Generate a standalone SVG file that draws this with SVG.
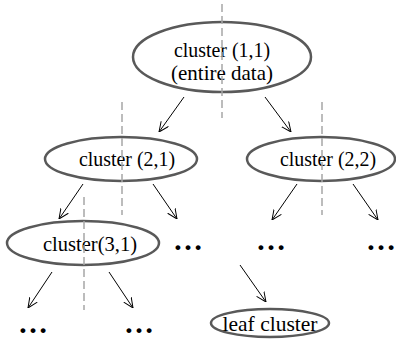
<svg xmlns="http://www.w3.org/2000/svg" width="396" height="339" viewBox="0 0 396 339">
<style>
.node ellipse{fill:#fff;stroke:#595959;stroke-width:2.5}
.lbl{font-family:"Liberation Serif","Times New Roman",serif;font-size:21px;fill:#000;text-anchor:middle}
.dots{font-family:"Liberation Serif","Times New Roman",serif;font-size:30px;font-weight:bold;fill:#000;text-anchor:middle}
.edge{stroke:#000;stroke-width:1;fill:none;marker-end:url(#arr)}
.split{stroke:#a6a6a6;stroke-width:1.5;stroke-dasharray:8,4;fill:none}
</style>
<defs>
<marker id="arr" viewBox="0 0 10 10" refX="10" refY="5" markerWidth="10" markerHeight="10" markerUnits="userSpaceOnUse" orient="auto">
<path d="M0,0.5 L10,5 L0,9.5" fill="none" stroke="#000" stroke-width="1"/>
</marker>
</defs>
<g id="n11" class="node"><ellipse cx="222" cy="57" rx="89" ry="35"/><text class="lbl" x="222" y="57" textLength="96" lengthAdjust="spacingAndGlyphs">cluster (1,1)</text><text class="lbl" x="222" y="80">(entire data)</text></g>
<g id="n21" class="node"><ellipse cx="121" cy="159" rx="76" ry="22"/><text class="lbl" x="127" y="166" textLength="96" lengthAdjust="spacingAndGlyphs">cluster (2,1)</text></g>
<g id="n22" class="node"><ellipse cx="321" cy="159" rx="74" ry="22"/><text class="lbl" x="328" y="166" textLength="96" lengthAdjust="spacingAndGlyphs">cluster (2,2)</text></g>
<g id="n31" class="node"><ellipse cx="83" cy="243" rx="76" ry="22"/><text class="lbl" x="90" y="251" textLength="94" lengthAdjust="spacingAndGlyphs">cluster(3,1)</text></g>
<g id="leaf" class="node"><ellipse cx="270" cy="323" rx="59" ry="14"/><text class="lbl" x="270" y="331" textLength="95" lengthAdjust="spacingAndGlyphs">leaf cluster</text></g>
<g id="d1"><text class="dots" x="188" y="250">…</text></g>
<g id="d2"><text class="dots" x="271" y="250">…</text></g>
<g id="d3"><text class="dots" x="381" y="250">…</text></g>
<g id="d4"><text class="dots" x="33" y="333">…</text></g>
<g id="d5"><text class="dots" x="139" y="333">…</text></g>
<g id="edges">
<line class="edge" x1="184" y1="97" x2="159" y2="132"/>
<line class="edge" x1="265" y1="97" x2="291" y2="132"/>
<line class="edge" x1="83" y1="184" x2="59" y2="219"/>
<line class="edge" x1="153" y1="184" x2="177" y2="219"/>
<line class="edge" x1="297" y1="184" x2="272" y2="220"/>
<line class="edge" x1="353" y1="184" x2="378" y2="220"/>
<line class="edge" x1="52" y1="272" x2="28" y2="308"/>
<line class="edge" x1="109" y1="272" x2="133" y2="308"/>
<line class="edge" x1="240" y1="265" x2="266" y2="302"/>
</g>
<g id="splits">
<line class="split" x1="222" y1="4" x2="222" y2="118"/>
<line class="split" x1="122" y1="102" x2="122" y2="215"/>
<line class="split" x1="322" y1="102" x2="322" y2="215"/>
<line class="split" x1="84" y1="197" x2="84" y2="310"/>
</g>
</svg>
